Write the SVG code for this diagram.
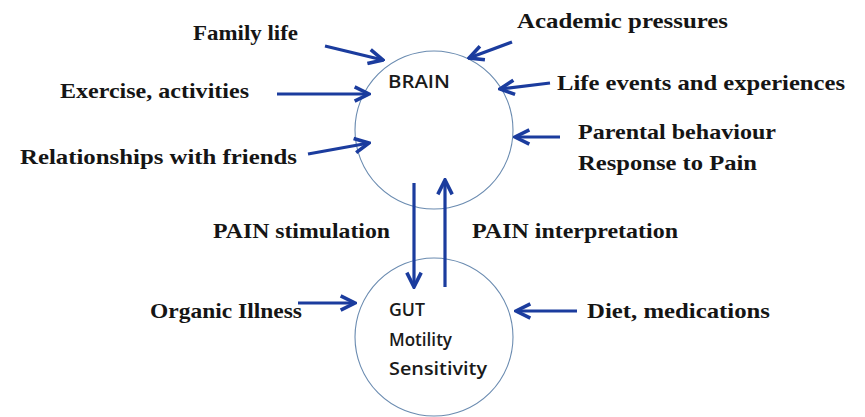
<svg xmlns="http://www.w3.org/2000/svg" width="865" height="417" viewBox="0 0 865 417">
<style>
.lbl{font-family:"Liberation Serif",serif;font-size:21px;font-weight:bold;fill:#151515}
.nd{font-family:"Open Sans","Liberation Sans",sans-serif;font-size:18px;font-weight:600;fill:#1a1a1a}
.circ{fill:none;stroke:#6a8bb0;stroke-width:1.1}
.arr{stroke:#1b3c9e;stroke-width:3.2;fill:none;marker-end:url(#ah)}
</style>
<defs>
<marker id="ah" viewBox="0 0 10 10" refX="9" refY="5" markerWidth="5.6" markerHeight="5.6" orient="auto" markerUnits="strokeWidth">
<path d="M1,1 L9,5 L1,9" fill="none" stroke="#1b3c9e" stroke-width="2" stroke-linejoin="miter"/>
</marker>
</defs>
<rect width="865" height="417" fill="#fff"/>
<g id="brain">
<circle class="circ" cx="434" cy="130" r="79"/>
<text class="nd" x="388" y="88" textLength="62" lengthAdjust="spacingAndGlyphs">BRAIN</text>
</g>
<g id="gut">
<circle class="circ" cx="434" cy="337" r="79"/>
<text class="nd" x="389" y="316" textLength="36" lengthAdjust="spacingAndGlyphs">GUT</text>
<text class="nd" x="389" y="346" textLength="63" lengthAdjust="spacingAndGlyphs">Motility</text>
<text class="nd" x="389" y="375" textLength="98" lengthAdjust="spacingAndGlyphs">Sensitivity</text>
</g>
<g id="labels">
<text class="lbl" x="193" y="40" textLength="105" lengthAdjust="spacingAndGlyphs">Family life</text>
<text class="lbl" x="60" y="98" textLength="189" lengthAdjust="spacingAndGlyphs">Exercise, activities</text>
<text class="lbl" x="20" y="164" textLength="277" lengthAdjust="spacingAndGlyphs">Relationships with friends</text>
<text class="lbl" x="517" y="28" textLength="211" lengthAdjust="spacingAndGlyphs">Academic pressures</text>
<text class="lbl" x="557" y="90" textLength="288" lengthAdjust="spacingAndGlyphs">Life events and experiences</text>
<text class="lbl" x="578" y="139" textLength="198" lengthAdjust="spacingAndGlyphs">Parental behaviour</text>
<text class="lbl" x="578" y="170" textLength="179" lengthAdjust="spacingAndGlyphs">Response to Pain</text>
<text class="lbl" x="213" y="238" textLength="177" lengthAdjust="spacingAndGlyphs">PAIN stimulation</text>
<text class="lbl" x="472" y="238" textLength="206" lengthAdjust="spacingAndGlyphs">PAIN interpretation</text>
<text class="lbl" x="150" y="318" textLength="152" lengthAdjust="spacingAndGlyphs">Organic Illness</text>
<text class="lbl" x="587" y="318" textLength="183" lengthAdjust="spacingAndGlyphs">Diet, medications</text>
</g>
<g id="connectors">
<line class="arr" x1="325" y1="46" x2="383" y2="60"/>
<line class="arr" x1="277" y1="94" x2="369" y2="94"/>
<line class="arr" x1="308" y1="154" x2="369" y2="143"/>
<line class="arr" x1="512" y1="42" x2="469" y2="58"/>
<line class="arr" x1="550" y1="83" x2="500" y2="89"/>
<line class="arr" x1="560" y1="137" x2="515" y2="137"/>
<line class="arr" x1="414" y1="183" x2="414" y2="287"/>
<line class="arr" x1="445" y1="287" x2="445" y2="180"/>
<line class="arr" x1="298" y1="303" x2="355" y2="303"/>
<line class="arr" x1="577" y1="311" x2="516" y2="311"/>
</g>
</svg>
